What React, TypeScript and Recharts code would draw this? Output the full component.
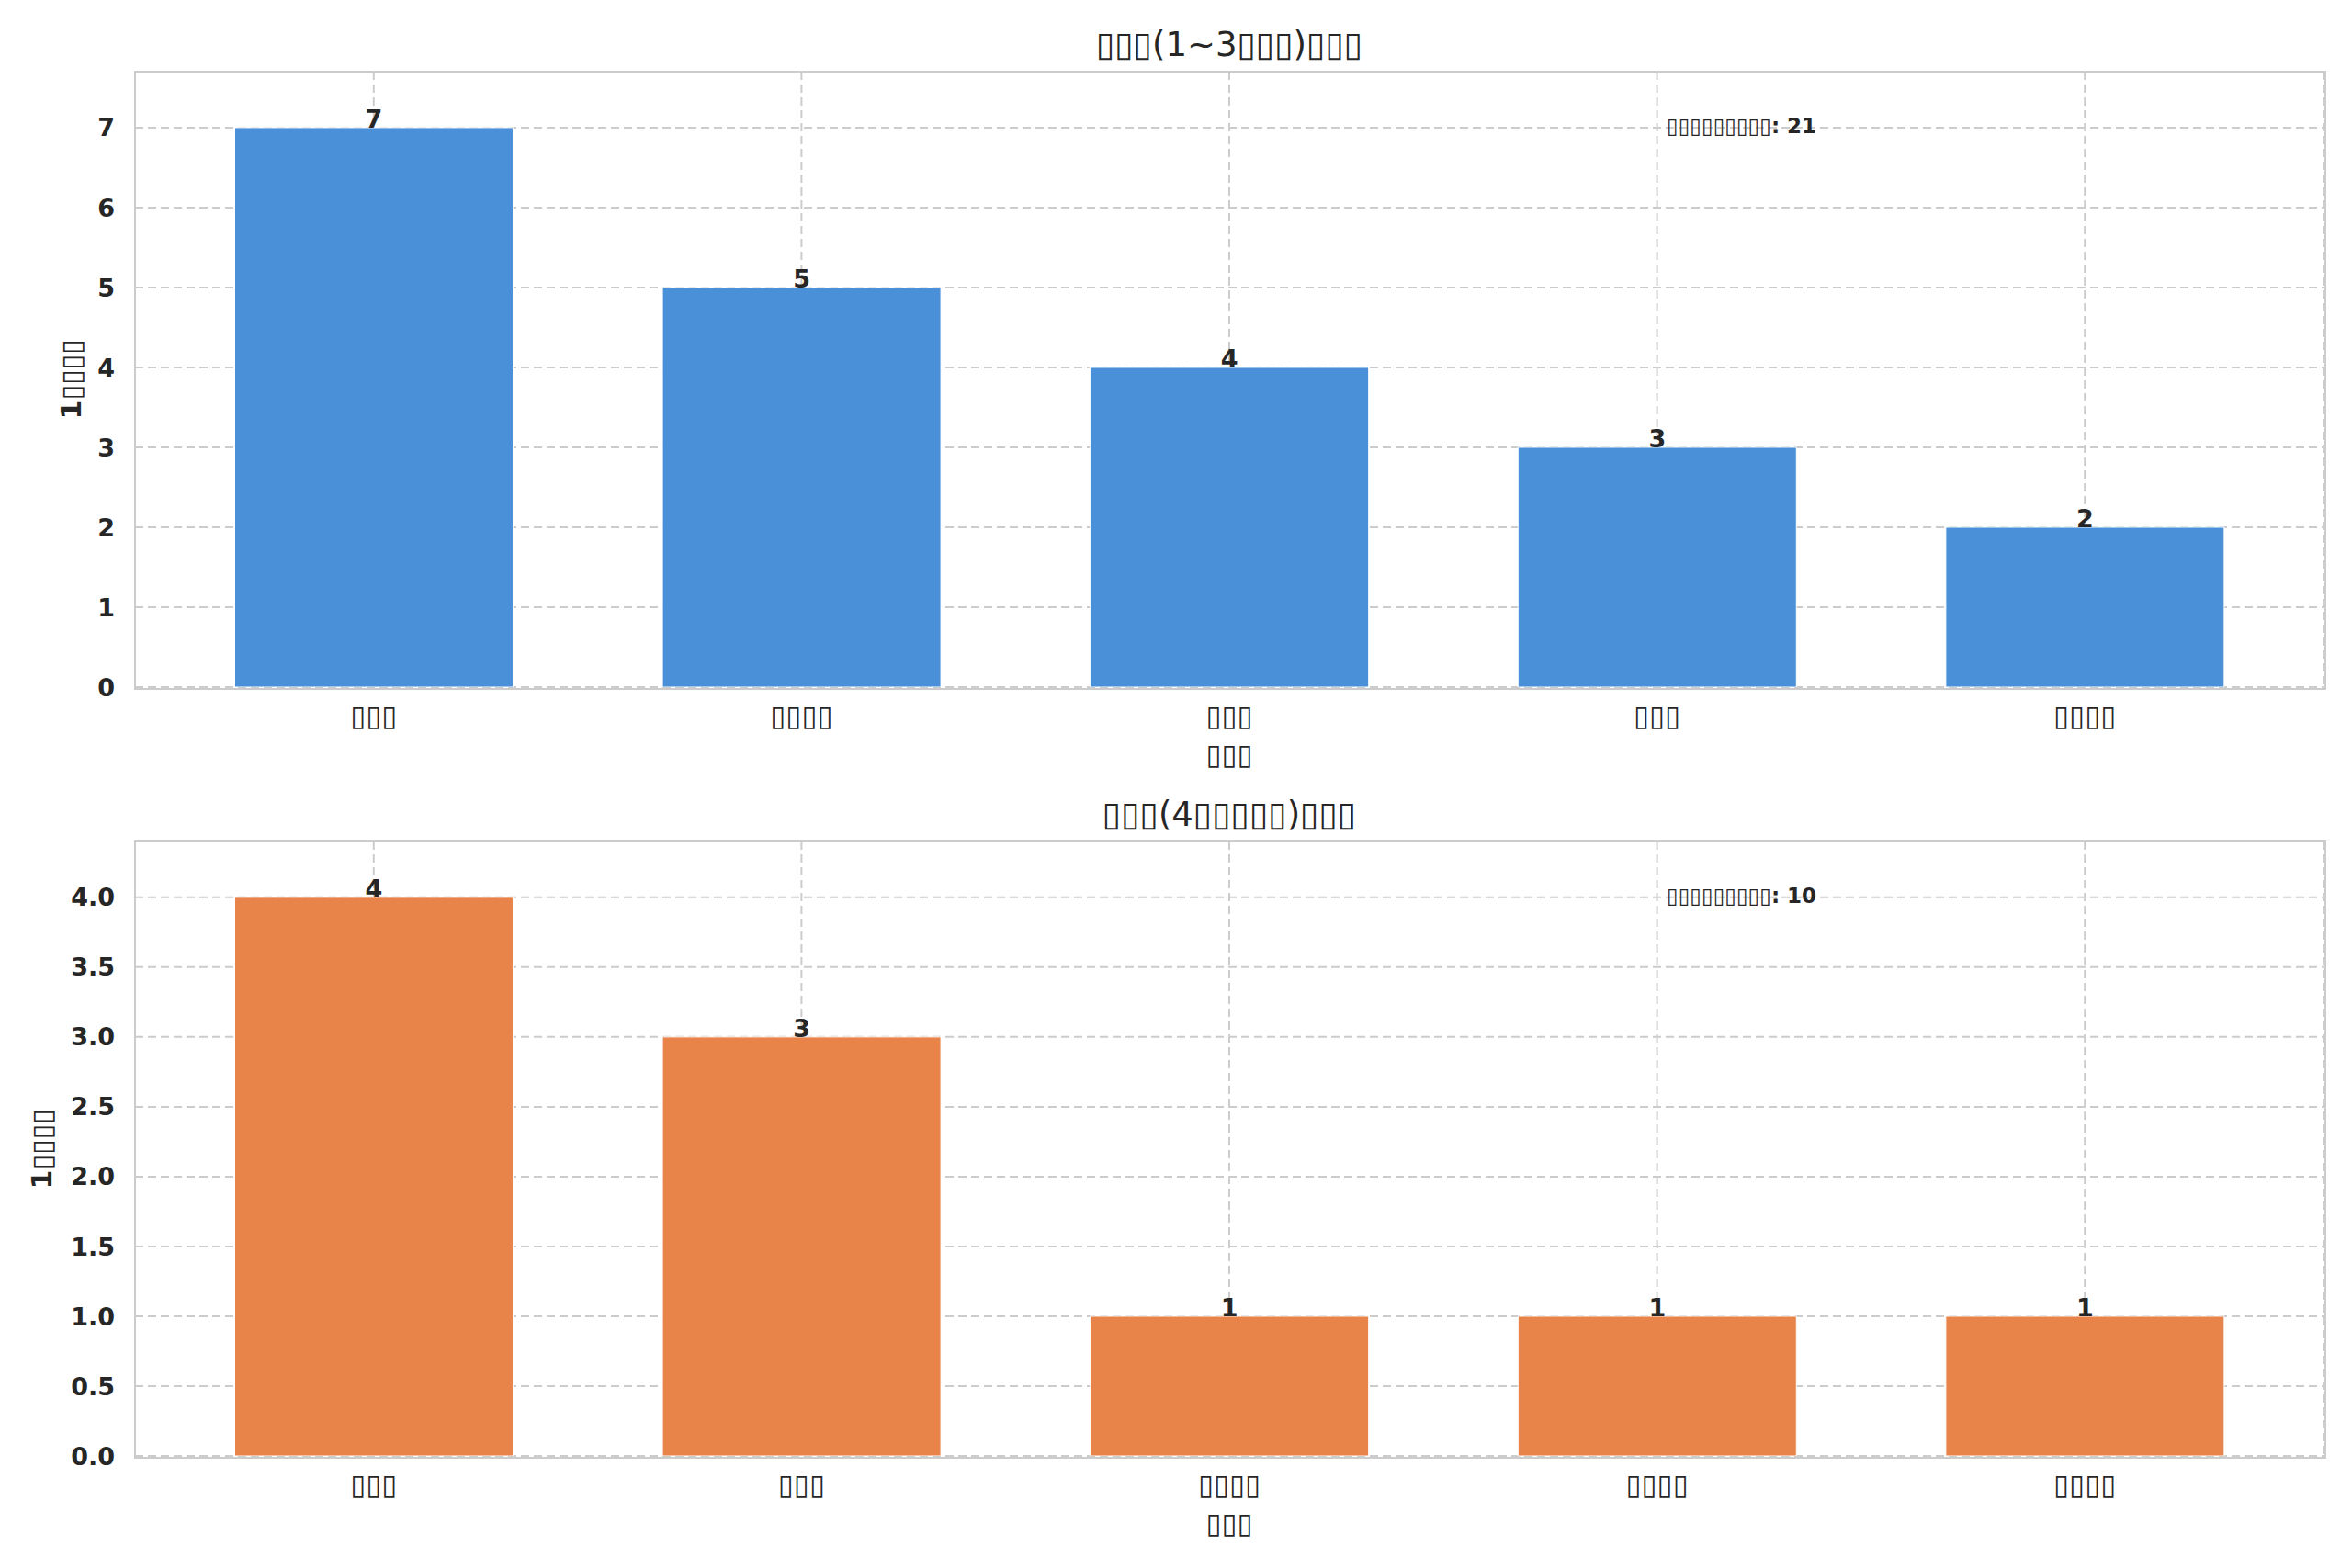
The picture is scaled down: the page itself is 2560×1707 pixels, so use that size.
import React from 'react';
import {
  BarChart,
  Bar,
  XAxis,
  YAxis,
  CartesianGrid,
  LabelList,
} from 'recharts';

// names were rendered as missing-glyph boxes in the source picture
const upperNames = ['▯▯▯', '▯▯▯▯', '▯▯▯', '▯▯▯', '▯▯▯▯'];
const upperValues = [7, 5, 4, 3, 2];
const upperTicks = [0, 1, 2, 3, 4, 5, 6, 7];

const lowerNames = ['▯▯▯ ', '▯▯▯  ', '▯▯▯▯', '▯▯▯▯ ', '▯▯▯▯  '];
const lowerValues = [4, 3, 1, 1, 1];
const lowerTicks = [0, 0.5, 1, 1.5, 2, 2.5, 3, 3.5, 4];

const upperTitle = '▯▯▯(1~3▯▯▯)▯▯▯';
const lowerTitle = '▯▯▯(4▯▯▯▯▯)▯▯▯';
const xTitle = '▯▯▯';
const yTitle = '1▯▯▯▯';
const totalLabel = '▯▯▯▯▯▯▯▯▯';

const FONT = '"DejaVu Sans", sans-serif';
const INK = '#262626';
const GRID = '#cccccc';

const W = 2560;
const PLOT_L = 147;
const PLOT_R = 2529;

interface PanelProps {
  names: string[];
  values: number[];
  ticks: number[];
  top: number;
  height: number;
  plotTop: number;
  plotBottom: number;
  color: string;
  title: string;
  titleY: number;
  yLabelX: number;
  decimals: number;
}

function Panel({ names, values, ticks, top, height, plotTop, plotBottom, color, title, titleY, yLabelX, decimals }: PanelProps) {
  const data = names.map((name, i) => ({ name, value: values[i] }));
  const max = Math.max(...values);
  const total = values.reduce((a, b) => a + b, 0);
  const xAxisH = 60;
  const plotH = plotBottom - plotTop;

  return (
    <div style={{ position: 'absolute', left: 0, top, width: W, height }}>
      <BarChart
        width={W}
        height={height}
        data={data}
        barCategoryGap="17.5%"
        margin={{ top: plotTop, right: W - PLOT_R, bottom: height - plotBottom - xAxisH, left: PLOT_L - 80 }}
      >
        <CartesianGrid stroke={GRID} strokeWidth={2} strokeDasharray="9 5" />
        <XAxis
          dataKey="name"
          height={xAxisH}
          padding={{ left: 27, right: 27 }}
          axisLine={false}
          tickLine={false}
          tickSize={0}
          tickMargin={20}
          interval={0}
          tick={{ fontSize: 31, fill: INK, fontFamily: FONT }}
          tickFormatter={(v: string) => v.trim()}
        />
        <YAxis
          width={80}
          domain={[0, max * 1.1]}
          ticks={ticks}
          allowDataOverflow
          axisLine={false}
          tickLine={false}
          tickSize={0}
          tickMargin={22}
          tick={{ fontSize: 27, fill: INK, fontFamily: FONT, fontWeight: 'bold' }}
          tickFormatter={(v: number) => v.toFixed(decimals)}
        />
        <Bar dataKey="value" fill={color} stroke="#ffffff" strokeWidth={1} isAnimationActive={false}>
          <LabelList
            dataKey="value"
            position="top"
            offset={0}
            style={{ fontSize: 27, fill: INK, fontFamily: FONT, fontWeight: 'bold' }}
          />
        </Bar>
      </BarChart>

      {/* axes frame */}
      <div
        style={{
          position: 'absolute',
          left: PLOT_L - 1,
          top: plotTop - 1,
          width: PLOT_R - PLOT_L,
          height: plotH,
          border: `2.5px solid ${GRID}`,
          pointerEvents: 'none',
        }}
      />

      <div style={{ position: 'absolute', left: (PLOT_L + PLOT_R) / 2, top: titleY - top - 22, transform: 'translateX(-50%)', fontFamily: FONT, fontSize: 37, color: INK, whiteSpace: 'nowrap', lineHeight: '44px' }}>
        {title}
      </div>

      <div style={{ position: 'absolute', left: (PLOT_L + PLOT_R) / 2, top: plotBottom + 73 - 19, transform: 'translateX(-50%)', fontFamily: FONT, fontSize: 31, color: INK, whiteSpace: 'nowrap', lineHeight: '38px' }}>
        {xTitle}
      </div>

      <div style={{ position: 'absolute', left: yLabelX, top: plotTop + plotH / 2, transform: 'translate(-50%, -50%) rotate(-90deg)', fontFamily: FONT, fontSize: 30, fontWeight: 'bold', color: INK, whiteSpace: 'nowrap', lineHeight: '36px' }}>
        {yTitle}
      </div>

      <div style={{ position: 'absolute', left: 1814, top: plotTop + plotH * 0.088 - 14, fontFamily: FONT, fontSize: 23, fontWeight: 'bold', color: INK, whiteSpace: 'nowrap', lineHeight: '28px' }}>
        {`${totalLabel}: ${total}`}
      </div>
    </div>
  );
}

export default function App() {
  return (
    <div style={{ position: 'absolute', left: 0, top: 0, width: 2560, height: 1707, background: '#ffffff', overflow: 'hidden' }}>
      <Panel
        names={upperNames}
        values={upperValues}
        ticks={upperTicks}
        top={0}
        height={853}
        plotTop={78}
        plotBottom={748}
        color="#4a90d9"
        title={upperTitle}
        titleY={49}
        yLabelX={78}
        decimals={0}
      />
      <Panel
        names={lowerNames}
        values={lowerValues}
        ticks={lowerTicks}
        top={853}
        height={854}
        plotTop={63}
        plotBottom={732}
        color="#e8844a"
        title={lowerTitle}
        titleY={887}
        yLabelX={46}
        decimals={1}
      />
    </div>
  );
}
